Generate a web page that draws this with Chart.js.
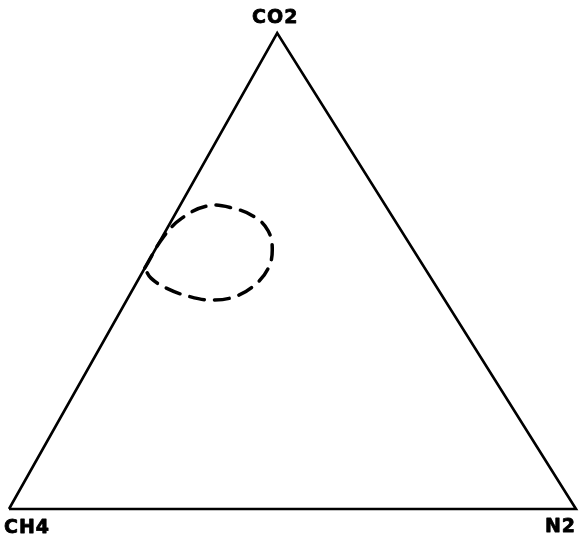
<!DOCTYPE html>
<html>
<head>
<meta charset="utf-8">
<title>CO2 – CH4 – N2</title>
<script src="https://cdn.jsdelivr.net/npm/chart.js@4/dist/chart.umd.min.js"></script>
<style>
  html, body { margin: 0; padding: 0; background: #fff; }
  canvas { display: block; }
</style>
</head>
<body>
<canvas id="chart" width="579" height="539"></canvas>
<script>
// Ternary components (corner labels)
const components = ['CO2', 'CH4', 'N2'];

// Triangle corners as compositions, in percent: CH4 corner, N2 corner, CO2 apex, back to CH4
const frameCO2 = [0, 0, 100, 0];
const frameN2  = [0, 100, 0, 0];

// Outline of the dashed field, as CO2 % and N2 % (CH4 is the remainder)
const fieldCO2 = [50.6, 57.1, 61.1, 63.7, 63.2, 61.3, 58.4, 54.4, 50.6, 47.3, 44.7, 43.9, 44.7, 46.4, 48.5, 50.6];
const fieldN2  = [0,    0.2,  1.6,  5.0,  9.6,  14.4, 18.1, 20.7, 21.8, 21.2, 18.9, 15.0, 10.5, 5.8,  2.1,  0];

// Horizontal share of the apex along the base of the drawn triangle
const APEX_SHARE = 0.473;

function toPlane(co2, n2) {
  return { x: n2 + co2 * APEX_SHARE, y: co2 };
}
function toPoints(co2s, n2s) {
  return co2s.map((c, i) => toPlane(c, n2s[i]));
}

const cornerLabels = {
  id: 'cornerLabels',
  afterDatasetsDraw(chart) {
    const { ctx, scales: { x, y } } = chart;
    const apex = toPlane(100, 0), left = toPlane(0, 0), right = toPlane(0, 100);
    ctx.save();
    ctx.fillStyle = '#000';
    ctx.strokeStyle = '#000';
    ctx.lineWidth = 0.8;
    ctx.lineJoin = 'round';
    ctx.font = 'bold 19px "DejaVu Sans", sans-serif';
    ctx.letterSpacing = '1px';
    ctx.textBaseline = 'alphabetic';
    const put = (text, px, py, align) => {
      ctx.textAlign = align;
      ctx.fillText(text, px, py);
      ctx.strokeText(text, px, py);
    };
    put(components[0], x.getPixelForValue(apex.x) - 2, y.getPixelForValue(apex.y) - 10, 'center');
    put(components[1], x.getPixelForValue(left.x) - 5, y.getPixelForValue(left.y) + 24, 'left');
    put(components[2], x.getPixelForValue(right.x), y.getPixelForValue(right.y) + 23, 'right');
    ctx.restore();
  }
};

new Chart(document.getElementById('chart'), {
  type: 'scatter',
  data: {
    datasets: [
      {
        label: 'frame',
        data: toPoints(frameCO2, frameN2),
        showLine: true,
        borderColor: '#000',
        borderWidth: 2.6,
        pointRadius: 0,
        tension: 0,
        clip: 12
      },
      {
        label: 'field',
        data: toPoints(fieldCO2, fieldN2),
        showLine: true,
        borderColor: '#000',
        borderWidth: 3.5,
        borderDash: [15, 10],
        borderCapStyle: 'round',
        pointRadius: 0,
        tension: 0.4,
        clip: 12
      }
    ]
  },
  options: {
    responsive: false,
    devicePixelRatio: 1,
    animation: false,
    layout: { padding: { left: 9, right: 3, top: 33, bottom: 30 } },
    plugins: { legend: { display: false }, tooltip: { enabled: false } },
    scales: {
      x: { type: 'linear', min: 0, max: 100, display: false },
      y: { type: 'linear', min: 0, max: 100, display: false }
    }
  },
  plugins: [cornerLabels]
});
</script>
</body>
</html>
